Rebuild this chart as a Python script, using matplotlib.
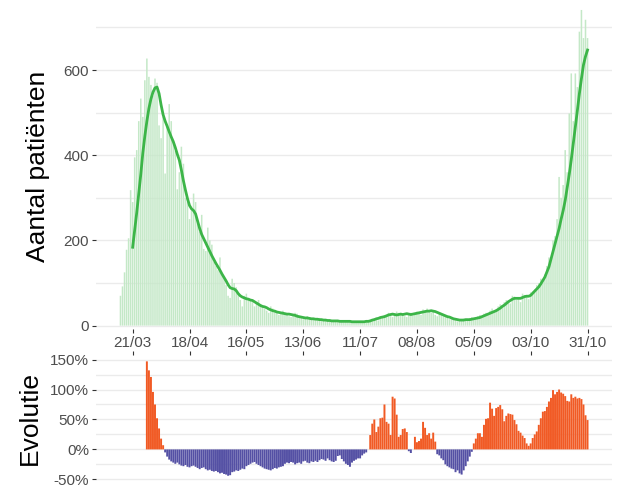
import matplotlib
matplotlib.use("Agg")
import matplotlib.pyplot as plt
import matplotlib.dates as mdates
import pandas as pd

plt.rcParams['font.family'] = ['Liberation Sans', 'DejaVu Sans']

# daily new hospital admissions, 15/03 .. 31/10
start = '2020-03-15'
daily = [
    70, 92, 125, 178, 205, 318, 290, 395, 412, 480,
    533, 490, 576, 627, 584, 565, 540, 580, 570, 470,
    440, 490, 357, 470, 520, 480, 430, 410, 320, 360,
    420, 380, 300, 290, 250, 270, 310, 290, 240, 220,
    260, 180, 175, 230, 200, 190, 150, 140, 130, 160,
    120, 110, 95, 70, 65, 110, 100, 90, 75, 60,
    45, 70, 75, 65, 60, 55, 45, 55, 60, 50,
    45, 40, 35, 30, 45, 40, 35, 30, 25, 28,
    35, 30, 28, 22, 20, 25, 30, 28, 22, 18,
    15, 20, 22, 20, 16, 15, 12, 15, 18, 15,
    13, 12, 10, 9, 13, 12, 11, 10, 8, 9,
    8, 12, 10, 9, 8, 10, 7, 6, 11, 10,
    9, 8, 12, 14, 15, 17, 13, 12, 18, 22,
    25, 24, 30, 22, 20, 28, 33, 30, 26, 25,
    22, 20, 28, 30, 24, 27, 33, 28, 25, 38,
    35, 40, 34, 30, 36, 25, 22, 30, 28, 24,
    20, 18, 15, 20, 16, 13, 10, 14, 13, 16,
    14, 12, 18, 20, 18, 15, 22, 25, 20, 28,
    30, 26, 35, 40, 32, 38, 45, 50, 48, 55,
    60, 58, 52, 70, 68, 60, 62, 55, 75, 72,
    70, 62, 78, 80, 85, 95, 100, 110, 105, 120,
    140, 160, 155, 200, 210, 250, 349, 300, 330, 412,
    360, 498, 592, 480, 592, 560, 690, 741, 675, 718,
    675,
]

# 7-day average, from 21/03
avg_start = '2020-03-21'
avg7 = [
    184, 225, 265, 310, 355, 405, 445, 480, 510, 532,
    548, 558, 560, 545, 518, 495, 480, 468, 455, 443,
    432, 418, 402, 388, 365, 340, 318, 298, 282, 274,
    270, 262, 245, 228, 214, 204, 194, 184, 174, 164,
    155, 146, 138, 130, 121, 113, 105, 96, 89, 87,
    86, 82, 75, 70, 67, 65, 63, 62, 60, 59,
    56, 53, 50, 47, 45, 44, 42, 39, 37, 35,
    34, 32, 31, 30, 29, 28, 27, 27, 26, 25,
    24, 22, 21, 20, 19, 18, 18, 17, 16, 16,
    15, 15, 14, 14, 13, 13, 12, 12, 11, 11,
    11, 11, 10, 10, 10, 10, 10, 10, 9, 9,
    9, 9, 9, 9, 9, 10, 10, 11, 13, 14,
    16, 17, 19, 20, 21, 23, 25, 26, 27, 26,
    25, 26, 27, 26, 27, 28, 27, 26, 27, 28,
    29, 30, 31, 32, 33, 34, 34, 35, 34, 33,
    31, 29, 27, 25, 23, 21, 20, 18, 16, 15,
    14, 13, 13, 13, 14, 14, 14, 15, 16, 17,
    18, 19, 21, 23, 25, 27, 29, 31, 33, 35,
    38, 41, 45, 48, 52, 56, 59, 62, 64, 64,
    64, 64, 66, 68, 69, 69, 71, 76, 81, 86,
    91, 98, 106, 114, 126, 138, 156, 175, 192, 210,
    228, 250, 270, 294, 325, 355, 390, 428, 467, 505,
    545, 580, 612, 632, 647,
]

# weekly evolution in %, from 28/03
evo_start = '2020-03-28'
evolution = [
    147, 132, 121, 96, 75, 52, 35, 18, 7,
    -5, -12, -17, -20, -22, -24, -22, -25, -27, -28,
    -26, -29, -30, -28, -27, -29, -31, -33, -31, -30,
    -33, -35, -34, -36, -37, -36, -38, -40, -39, -41,
    -42, -44, -43, -38, -37, -35, -36, -34, -32, -33,
    -28, -26, -24, -22, -21,
    -24, -26, -28, -30, -32, -33, -34, -35, -33, -31,
    -32, -30, -29, -28, -24, -22, -23, -21, -22, -25,
    -23, -22, -24, -20, -19, -22, -23, -20, -21, -19,
    -21, -18, -16, -17, -19, -15, -18, -20, -21, -19,
    -11, -10, -16, -20, -24, -26, -29, -22, -19, -17,
    -15, -15, -10, -7,
    -5, 0, 24, 43, 50, 29, 38, 52, 53, 75,
    46, 43, 24, 88, 85, 58, 21, 24, 34, 35,
    29, -3, -6, 0, 21, 12, 14, 18, 46, 36,
    24, 27, 18, 28, 13, -8, -10, -15, -18, -25,
    -28, -30, -32, -33, -38, -35, -40, -42, -35, -28,
    -20, -12, -4, 10, 18, 27, 27, 21,
    41, 51, 52, 78, 68, 56, 69, 71, 74, 67,
    47, 56, 60, 59, 58, 49, 42, 31, 28, 23,
    19, 10, 6, 10, 19, 25, 30, 41, 52, 63,
    64, 71, 80, 86, 99, 92, 96, 100, 95, 93,
    89, 81, 80, 92, 86, 88, 85, 86, 84, 75,
    57, 49,
]

tick_dates = pd.date_range('2020-03-21', '2020-10-31', freq='28D')

days = pd.date_range(start, periods=len(daily))
avg_days = pd.date_range(avg_start, periods=len(avg7))
evo_days = pd.date_range(evo_start, periods=len(evolution))

grid_col = '#ebebeb'
text_col = '#4d4d4d'

fig = plt.figure(figsize=(6.17, 4.88), dpi=100)
ax1 = fig.add_axes([0.1556, 0.3258, 0.8363, 0.666])
ax2 = fig.add_axes([0.1556, 0.0133, 0.8363, 0.2592], sharex=ax1)

# top panel
ax1.bar(days, daily, width=0.75, color='#c4e8c7', linewidth=0, snap=False)
ax1.plot(avg_days, avg7, color='#3cb548', linewidth=2)
ax1.set_ylim(-8, 755)
ax1.set_yticks([0, 200, 400, 600])
ax1.set_yticks([100, 300, 500, 700], minor=True)
ax1.set_ylabel('Aantal patiënten', fontsize=19, labelpad=10)

# bottom panel
colors = ['#f15a24' if v >= 0 else '#5450a4' for v in evolution]
ax2.bar(evo_days, evolution, width=0.96, color=colors, linewidth=0, snap=False)
ax2.set_ylim(-53.6, 157.6)
ax2.set_yticks([-50, 0, 50, 100, 150])
ax2.set_yticks([-25, 25, 75, 125], minor=True)
ax2.set_yticklabels([f'{v}%' for v in [-50, 0, 50, 100, 150]])
ax2.set_ylabel('Evolutie', fontsize=19, labelpad=6)

x0 = pd.Timestamp(start) - pd.Timedelta(days=12.05)
x1 = pd.Timestamp(start) + pd.Timedelta(days=242.05)
ax1.set_xlim(x0, x1)
ax1.set_xticks(tick_dates)
ax1.xaxis.set_major_formatter(mdates.DateFormatter('%d/%m'))

for ax in (ax1, ax2):
    for s in ax.spines.values():
        s.set_visible(False)
    ax.set_axisbelow(True)
    ax.grid(axis='y', which='both', color=grid_col, linewidth=1)
    ax.tick_params(axis='y', which='major', length=3, color='#333333',
                   labelcolor=text_col, labelsize=11, pad=2)
    ax.tick_params(axis='y', which='minor', length=0)

ax1.tick_params(axis='x', length=3, color='#333333', labelcolor=text_col,
                labelsize=11, pad=2)
ax2.tick_params(axis='x', bottom=False, top=True, labelbottom=False,
                labeltop=False, length=3, color='#333333')

# align the two y labels
fig.align_ylabels([ax1, ax2])

fig.savefig('out.png', dpi=100)
